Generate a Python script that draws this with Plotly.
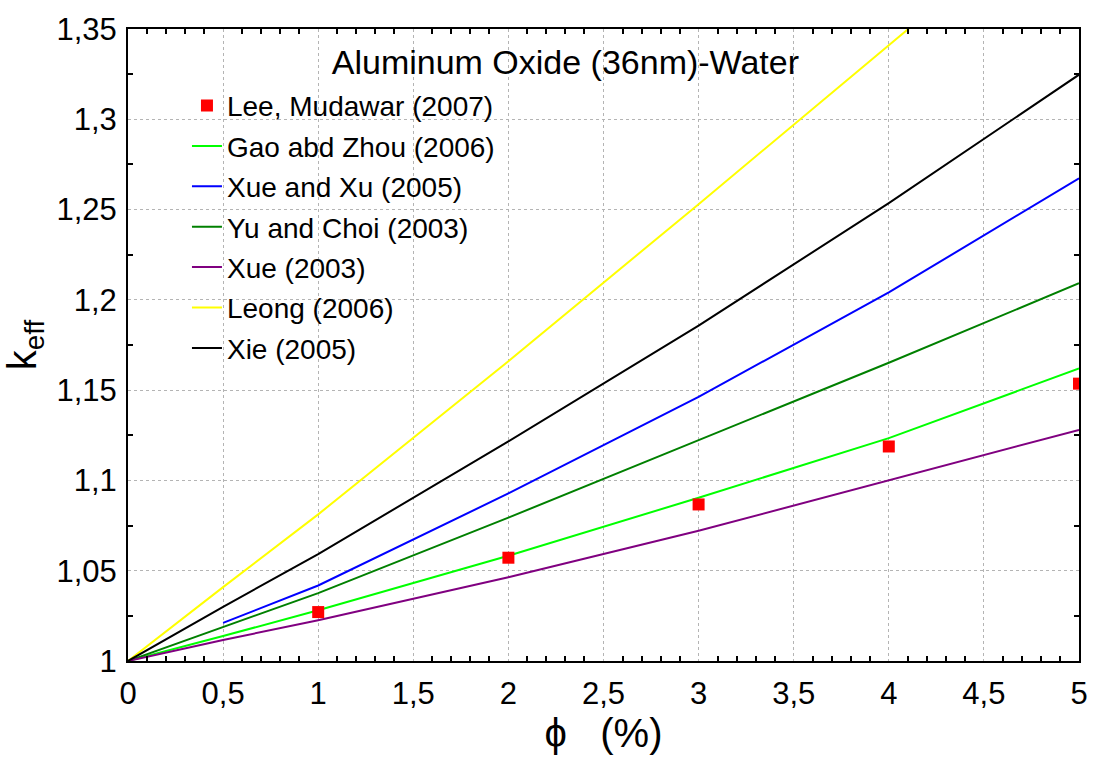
import plotly.graph_objects as go

# ---- data ----
phi = [0, 0.5, 1, 2, 3, 4, 5]
phi_xue_xu = [0.5, 1, 2, 3, 4, 5]

lee_phi = [1, 2, 3, 4, 5]
lee_k = [1.0271, 1.0572, 1.0867, 1.1188, 1.1536]

gao_zhou = [1.0, 1.0138, 1.0281, 1.0583, 1.0904, 1.1234, 1.1620]
xue_xu = [1.0211, 1.0418, 1.0928, 1.1463, 1.2041, 1.2673]
yu_choi = [1.0, 1.0189, 1.0376, 1.0794, 1.1225, 1.1652, 1.2092]
xue = [1.0, 1.0116, 1.0226, 1.0464, 1.0721, 1.1001, 1.1280]
leong = [1.0, 1.0409, 1.0812, 1.1660, 1.2530, 1.3410, 1.4290]
xie = [1.0, 1.0300, 1.0592, 1.1216, 1.1857, 1.2536, 1.3247]

x_tick_vals = [0, 0.5, 1, 1.5, 2, 2.5, 3, 3.5, 4, 4.5, 5]
x_tick_text = ["0", "0,5", "1", "1,5", "2", "2,5", "3", "3,5", "4", "4,5", "5"]
y_tick_vals = [1, 1.05, 1.1, 1.15, 1.2, 1.25, 1.3, 1.35]
y_tick_text = ["1", "1,05", "1,1", "1,15", "1,2", "1,25", "1,3", "1,35"]

# small inside tick marks between the labelled values (axis styling)
x_minor = [round(i * 0.1, 1) for i in range(1, 50) if i % 5 != 0]
y_minor = [round(1 + i * 0.025, 4) for i in range(1, 14) if i % 2 == 1]

FONT = "Liberation Sans, Arial, sans-serif"

fig = go.Figure()

lines = [
    ("Gao abd Zhou (2006)", phi, gao_zhou, "#00FF00", 2),
    ("Xue and Xu (2005)", phi_xue_xu, xue_xu, "#0000FF", 3),
    ("Yu and Choi (2003)", phi, yu_choi, "#008000", 4),
    ("Xue (2003)", phi, xue, "#800080", 5),
    ("Leong (2006)", phi, leong, "#FFFF00", 6),
    ("Xie (2005)", phi, xie, "#000000", 7),
]
for name, xs, ys, col, rank in lines:
    fig.add_trace(go.Scatter(
        x=xs, y=ys, mode="lines", name=name,
        line=dict(color=col, width=2),
        legendrank=rank, legendgroup=name,
    ))

fig.add_trace(go.Scatter(
    x=lee_phi, y=lee_k, mode="markers", name="Lee, Mudawar (2007)",
    marker=dict(symbol="square", color="#FF0000", size=12, line=dict(width=0)),
    legendrank=1, legendgroup="lee",
))

# empty helper trace so the overlaid tick-only axes are laid out
fig.add_trace(go.Scatter(x=[], y=[], xaxis="x2", yaxis="y2", mode="lines",
                         showlegend=False, hoverinfo="skip"))

axis_common = dict(
    showline=True, linecolor="black", linewidth=2, mirror=True,
    ticks="",
    showgrid=True, gridcolor="#b4b4b4", griddash="dot", gridwidth=1,
    zeroline=False,
    tickfont=dict(family=FONT, size=31, color="black"),
)

tick_only = dict(
    tickmode="array", ticks="inside", ticklen=5, tickwidth=2, tickcolor="black",
    showticklabels=False, showgrid=False, showline=False, zeroline=False,
    mirror="ticks",
)

fig.update_layout(
    xaxis=dict(**axis_common,
               range=[0, 5], tickmode="array", tickvals=x_tick_vals, ticktext=x_tick_text,
               title=dict(text="ϕ   (%)", font=dict(family=FONT, size=40, color="black"), standoff=4),
               ticklabelstandoff=4),
    yaxis=dict(**axis_common,
               range=[1, 1.35], tickmode="array", tickvals=y_tick_vals, ticktext=y_tick_text,
               title=dict(text="k<sub>eff</sub>", font=dict(family=FONT, size=40, color="black"), standoff=10),
               ticklabelstandoff=3),
    xaxis2=dict(overlaying="x", anchor="y", side="bottom", range=[0, 5],
                tickvals=x_minor, **tick_only),
    yaxis2=dict(overlaying="y", anchor="x", side="left", range=[1, 1.35],
                tickvals=y_minor, **tick_only),
    width=1100, height=758,
    margin=dict(l=128, r=16, t=25, b=97),
    paper_bgcolor="white", plot_bgcolor="white",
    font=dict(family=FONT, color="black"),
    title=dict(text="Aluminum Oxide (36nm)-Water",
               font=dict(family=FONT, size=34, color="black"),
               x=0.514, xanchor="center", y=1 - 62 / 758, yanchor="middle"),
    legend=dict(
        x=0.062, xanchor="left", y=0.918, yanchor="top",
        bgcolor="rgba(0,0,0,0)", borderwidth=0,
        font=dict(family=FONT, size=28, color="black"),
        tracegroupgap=1, traceorder="grouped",
    ),
    showlegend=True,
)

fig.write_html("out.html")
